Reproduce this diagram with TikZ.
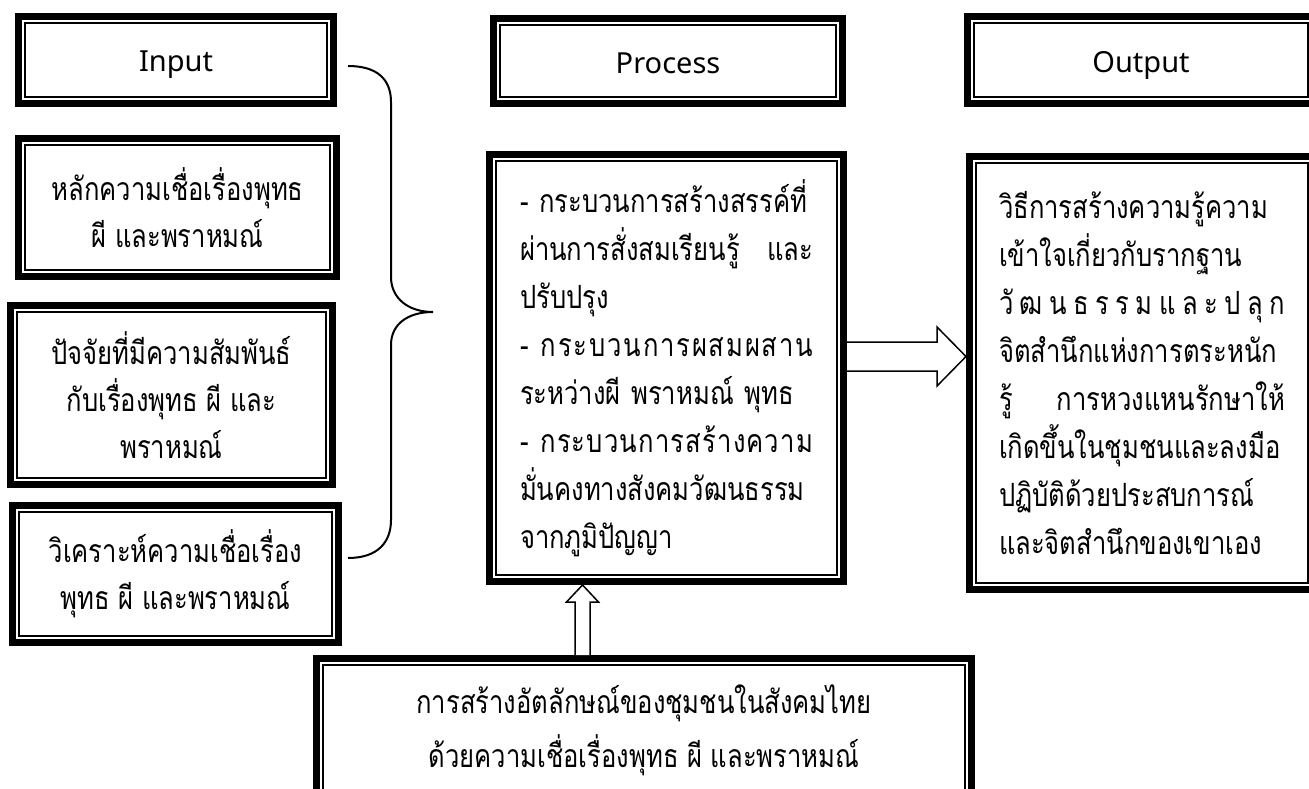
\documentclass[tikz,border=0pt]{standalone}
\usepackage{fontspec}
\newfontfamily\thai[Script=Thai,FakeStretch=0.8]{Loma}
\newfontfamily\lat{Noto Sans}
\usetikzlibrary{calc}
\newcommand\ls{\hfill}
\newcommand\hd[2]{\raisebox{#1}[\height][\depth]{#2}}
\begin{document}
\begin{tikzpicture}[x=1pt,y=-1pt,
  tbox/.style={draw, line width=7pt, outer sep=3.5pt, inner sep=0pt, fill=white,
    align=center, font=\thai\fontsize{32}{47}\selectfont},
  hdr/.style={font=\lat\fontsize{29}{35}\selectfont},
  inline/.style={line width=1.8pt},
  barrow/.style={draw, line width=1.5pt, fill=white, line join=miter},
  bracel/.style={line width=2pt}]
\path[use as bounding box] (0,0) rectangle (1309,789);
\clip (0,0) rectangle (1309,789);
% left column
\node[tbox,hdr,minimum width=315pt,minimum height=87pt] (inp) at (176,60) {\hd{-5pt}{Input}};
\node[tbox,minimum width=318pt,minimum height=138pt] (b1) at (177.5,207.5)
  {หลักความเชื่อเรื่องพุทธ\\ผี และพราหมณ์};
\node[tbox,minimum width=322pt,minimum height=179pt] (b2) at (171.5,395)
  {ปัจจัยที่มีความสัมพันธ์\\กับเรื่องพุทธ ผี และ\\พราหมณ์};
\node[tbox,minimum width=326pt,minimum height=137pt] (b3) at (175.5,574)
  {วิเคราะห์ความเชื่อเรื่อง\\พุทธ ผี และพราหมณ์};
% middle column
\node[tbox,hdr,minimum width=349pt,minimum height=85pt] (proc) at (668,61) {\hd{-2pt}{Process}};
\node[tbox,font=\thai\fontsize{32}{48}\selectfont,minimum width=354pt,minimum height=427pt,text width=293pt,align=left] (pbox) at (666.5,368)
  {- กระบวนการสร้างสรรค์ที่\\
   \makebox[293pt][s]{ผ่านการสั่งสมเรียนรู้\hfill และ}\\
   ปรับปรุง\\
   \makebox[293pt][s]{- \ls ก\ls ร\ls ะ\ls บ\ls ว\ls น\ls ก\ls า\ls ร\ls ผ\ls ส\ls ม\ls ผ\ls ส\ls า\ls น}\\
   ระหว่างผี พราหมณ์ พุทธ\\
   \makebox[293pt][s]{- \ls ก\ls ร\ls ะ\ls บ\ls ว\ls น\ls ก\ls า\ls ร\ls ส\ls ร้\ls า\ls ง\ls ค\ls ว\ls า\ls ม}\\
   มั่นคงทางสังคมวัฒนธรรม\\
   จากภูมิปัญญา};
% right column
\node[tbox,hdr,minimum width=347pt,minimum height=87pt] (outp) at (1141,60) {\hd{-5pt}{Output}};
\node[tbox,font=\thai\fontsize{32}{48}\selectfont,minimum width=345pt,minimum height=433pt,text width=286pt,align=left] (obox) at (1142,373)
  {วิธีการสร้างความรู้ความ\\
   เข้าใจเกี่ยวกับรากฐาน\\
   \makebox[286pt][s]{วั\ls ฒ\ls น\ls ธ\ls ร\ls ร\ls ม\ls แ\ls ล\ls ะ\ls ป\ls ลุ\ls ก}\\
   จิตสำนึกแห่งการตระหนัก\\
   \makebox[286pt][s]{รู้\hfill การหวงแหนรักษาให้}\\
   เกิดขึ้นในชุมชนและลงมือ\\
   ปฏิบัติด้วยประสบการณ์\\
   และจิตสำนึกของเขาเอง};
% bottom
\node[tbox,minimum width=655pt,minimum height=143pt,font=\thai\fontsize{32}{54}\selectfont] (bot) at (644,730)
  {การสร้างอัตลักษณ์ของชุมชนในสังคมไทย\\ด้วยความเชื่อเรื่องพุทธ ผี และพราหมณ์};
% inner thin frames
\foreach \n in {inp,b1,b2,b3,proc,pbox,outp,obox,bot}
  \draw[inline] ($(\n.north west)+(10,10)$) rectangle ($(\n.south east)+(-10,-10)$);
% brace
\coordinate (bt) at ($(inp.east)+(11,6)$);
\coordinate (bb) at ($(b3.east)+(6,-16)$);
\coordinate (bm) at (433,312);
\draw[bracel] (bt) .. controls (378,66) and (391,80) .. (391,102) -- (391,277)
  .. controls (391,298) and (408,312) .. (bm)
  .. controls (408,312) and (391,324) .. (391,345) -- (391,520)
  .. controls (391,542) and (378,558) .. (bb);
% right block arrow
\coordinate (ra) at ($(pbox.east)+(0,-11.5)$);
\coordinate (rt) at (ra -| obox.west);
\draw[barrow] ($(ra)+(0,-14.5)$) -- ($(rt)+(-29,-14.5)$) -- ($(rt)+(-29,-29.5)$) -- (rt)
  -- ($(rt)+(-29,29.5)$) -- ($(rt)+(-29,14.5)$) -- ($(ra)+(0,14.5)$);
% up block arrow
\coordinate (ut) at ($(pbox.south west)+(96.5,0)$);
\coordinate (ub) at (ut |- bot.north);
\draw[barrow] ($(ub)+(-7.5,0)$) -- ($(ut)+(-7.5,17)$) -- ($(ut)+(-16,17)$) -- (ut)
  -- ($(ut)+(16,17)$) -- ($(ut)+(7.5,17)$) -- ($(ub)+(7.5,0)$);
\end{tikzpicture}
\end{document}
